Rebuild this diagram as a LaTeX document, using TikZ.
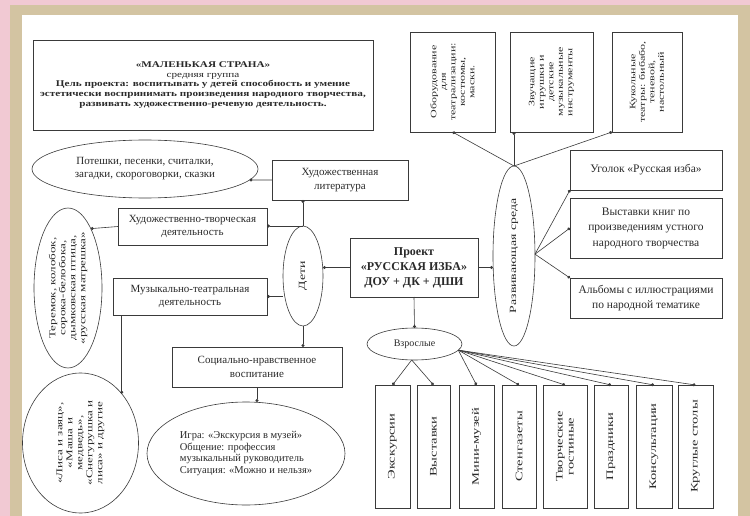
\documentclass[tikz,border=0pt]{standalone}
\usepackage{fontspec}
\setmainfont{Liberation Serif}
\newfontfamily\widefont[FakeStretch=1.27]{Liberation Serif}
\newfontfamily\tallfont[FakeStretch=1.45]{Liberation Serif}
\usetikzlibrary{arrows.meta,shapes.geometric}

\definecolor{linegray}{HTML}{3A3A3A}
\definecolor{textgray}{HTML}{2A2A2A}
\definecolor{pinkbg}{HTML}{F1C9D3}
\definecolor{tanframe}{HTML}{D3C4A2}

\begin{document}
\begin{tikzpicture}[x=1pt,y=-1pt,
      mybox/.style={
         rectangle,
         draw=linegray,
         line width=0.6pt,
         fill=white,
         text=textgray,
         align=center,
         inner sep=1pt,
         outer sep=0pt,
         font=\fontsize{11}{13.5}\selectfont},
      vbox/.style={mybox, rotate=90, font=\tallfont\fontsize{8.3}{9.5}\selectfont},
      myellipse/.style={
         ellipse,
         draw=linegray,
         line width=0.6pt,
         fill=white,
         text=textgray,
         align=center,
         inner sep=0pt,
         outer sep=0pt,
         font=\fontsize{11}{13}\selectfont},
      vellipse/.style={myellipse, rotate=90, font=\tallfont\fontsize{9}{10}\selectfont},
      myarrow/.style={draw=linegray, line width=0.6pt, -{Circle[length=3pt]}}
      ]
      \useasboundingbox (0,0) rectangle (750,516);
      \fill[pinkbg] (0,0) rectangle (750,516);
      \fill[tanframe] (10,5) rectangle (750,516);
      \fill[white] (22,15) rectangle (738,516);

      % left part
      \node[mybox, minimum width=340pt, minimum height=90pt, font=\widefont\fontsize{8.8}{9.7}\selectfont] (goal) at (203,85)
        {\textbf{«МАЛЕНЬКАЯ СТРАНА»}\\средняя группа\\
         \textbf{Цель проекта: воспитывать у детей способность и умение}\\
         \textbf{эстетически воспринимать произведения народного творчества,}\\
         \textbf{развивать художественно-речевую деятельность.}};
      \node[myellipse, minimum width=226pt, minimum height=58pt] (potesh) at (145,169)
        {Потешки, песенки, считалки,\\загадки, скороговорки, сказки};
      \node[mybox, minimum width=136pt, minimum height=40pt] (hl) at (340,180)
        {Художественная\\литература};
      \node[mybox, minimum width=149pt, minimum height=37pt] (htd) at (192.5,226.5)
        {Художественно-творческая\\деятельность};
      \node[mybox, minimum width=154pt, minimum height=37pt] (mtd) at (190,296.5)
        {Музыкально-театральная\\деятельность};
      \node[vellipse, minimum width=160pt, minimum height=68pt] (teremok) at (68,288)
        {Теремок, колобок,\\сорока-белобока,\\дымковская птица,\\«русская матрешка»};
      \node[vellipse, minimum width=140pt, minimum height=116pt] (lisa) at (80.5,443)
        {«Лиса и заяц»,\\«Маша и\\медведь»,\\«Снегурушка и\\лиса» и другие};
      \node[vellipse, minimum width=100pt, minimum height=40pt, font=\tallfont\fontsize{9.5}{11}\selectfont] (deti) at (303,276) {Дети};
      \node[mybox, minimum width=170pt, minimum height=40pt] (slv) at (257,367)
        {Социально-нравственное\\воспитание};
      \node[myellipse, minimum width=198pt, minimum height=103pt, align=left, font=\fontsize{10.5}{11.5}\selectfont] (igra) at (246,453.5)
        {Игра: «Экскурсия в музей»\\Общение: профессия\\музыкальный руководитель\\Ситуация: «Можно и нельзя»};

      % center
      \node[mybox, minimum width=128pt, minimum height=59pt, font=\fontsize{12}{15}\selectfont\bfseries] (pr) at (414,267.5)
        {Проект\\«РУССКАЯ ИЗБА»\\ДОУ + ДК + ДШИ};
      \node[myellipse, minimum width=95pt, minimum height=32pt, font=\fontsize{10}{12}\selectfont] (vzr) at (414.5,344) {Взрослые};

      % right part
      \node[vellipse, minimum width=180pt, minimum height=42pt, font=\tallfont\fontsize{9.5}{11}\selectfont] (sreda) at (514,256) {Развивающая среда};
      \node[vbox, minimum width=100pt, minimum height=85pt] (ob) at (452.5,82)
        {Оборудование\\для\\театрализации:\\костюмы,\\маски.};
      \node[vbox, minimum width=100pt, minimum height=83pt] (zv) at (551.5,82)
        {Звучащие\\игрушки и\\детские\\музыкальные\\инструменты};
      \node[vbox, minimum width=100pt, minimum height=70pt] (kt) at (647,82)
        {Кукольные\\театры: бибабо,\\теневой,\\настольный};
      \node[mybox, minimum width=152pt, minimum height=40pt, font=\fontsize{11.5}{15}\selectfont] (ugolok) at (646,170) {Уголок «Русская изба»};
      \node[mybox, minimum width=152pt, minimum height=60pt, font=\fontsize{11.5}{15.5}\selectfont] (vyst) at (646,228)
        {Выставки книг по\\произведениям устного\\народного творчества};
      \node[mybox, minimum width=152pt, minimum height=40pt, font=\fontsize{11.5}{15}\selectfont] (alb) at (646,298)
        {Альбомы с иллюстрациями\\по народной тематике};

      % bottom boxes
      \foreach \n/\x/\w/\txt in {1/392.5/35/Экскурсии, 2/433.5/33/Выставки, 3/476.5/35/Мини-музей,
          4/519/34/Стенгазеты, 5/565/44/{Творческие\\гостиные}, 6/611/34/Праздники,
          7/654/36/Консультации, 8/695.5/35/Круглые столы}
        \node[vbox, minimum width=123pt, minimum height=\w pt, font=\tallfont\fontsize{10}{11}\selectfont] (b\n) at (\x,446.5) {\txt};

      \coordinate (sr) at (sreda.-85);
      \foreach \i/\j in {sreda.east/ob.west, sreda.east/kt.north west,
          sr/ugolok.south west, sr/vyst.west, sr/alb.north west,
          pr.south/vzr.north, hl.west/potesh.-6, htd.west/teremok.-21,
          vzr.-100/b1.east, vzr.-100/b2.east}
        \draw[myarrow] (\i) -- (\j);
      \foreach \n in {3,...,8}
        \draw[myarrow] (vzr.-8) -- (b\n.east);

      \draw[myarrow] (sreda.east) -- (sreda.east |- zv.west);
      \draw[myarrow] (pr.east) -- (pr.east -| sreda.north);
      \draw[myarrow] (pr.west) -- (pr.west -| deti.south);
      \draw[myarrow] (deti.east) -- (deti.east |- hl.south);
      \draw[myarrow] (deti.east) -- (deti.east -| htd.east);
      \draw[myarrow] (mtd.east -| deti.north) -- (mtd.east);
      \draw[myarrow] (deti.west) -- (deti.west |- slv.north);
      \draw[myarrow] (lisa.-40 |- mtd.south) -- (lisa.-40);
      \draw[myarrow] (slv.south) -- (slv.south |- igra.north);
\end{tikzpicture}
\end{document}
